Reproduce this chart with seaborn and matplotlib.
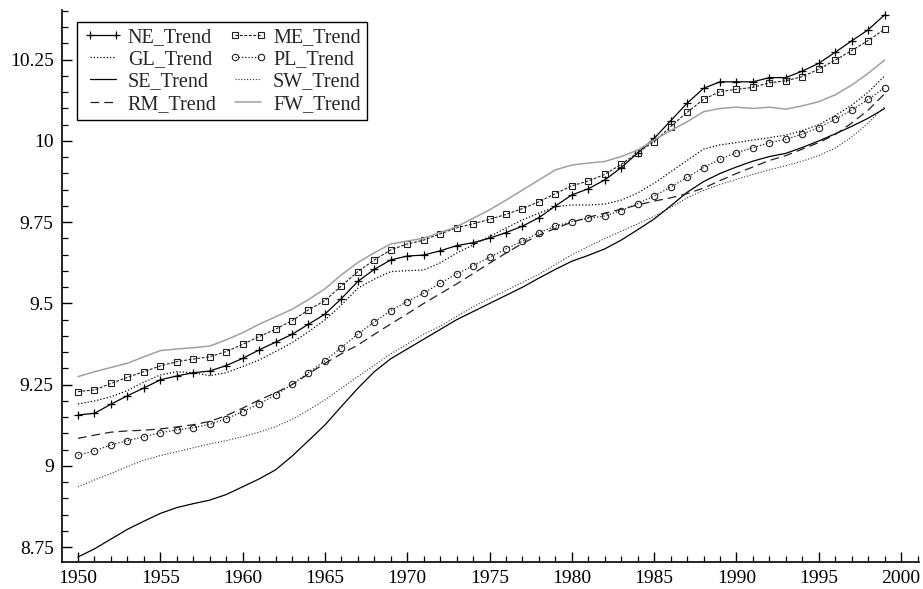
import numpy as np
import pandas as pd
import matplotlib
matplotlib.use("Agg")
import matplotlib.pyplot as plt
from matplotlib.ticker import MultipleLocator, FuncFormatter
import seaborn as sns

years = list(range(1950, 2000))

ne_trend = [9.157, 9.162, 9.190, 9.216, 9.240, 9.265, 9.277, 9.287, 9.292, 9.309,
            9.331, 9.357, 9.381, 9.405, 9.436, 9.467, 9.515, 9.568, 9.605, 9.634,
            9.646, 9.649, 9.662, 9.678, 9.687, 9.701, 9.718, 9.738, 9.764, 9.800,
            9.834, 9.853, 9.880, 9.918, 9.963, 10.008, 10.062, 10.116, 10.162, 10.182,
            10.182, 10.182, 10.195, 10.195, 10.215, 10.239, 10.273, 10.308, 10.342, 10.388]

me_trend = [9.229, 9.234, 9.254, 9.273, 9.290, 9.308, 9.321, 9.329, 9.336, 9.352,
            9.374, 9.398, 9.421, 9.447, 9.480, 9.509, 9.554, 9.598, 9.634, 9.665,
            9.683, 9.695, 9.714, 9.733, 9.745, 9.759, 9.774, 9.792, 9.813, 9.838,
            9.862, 9.877, 9.897, 9.928, 9.964, 9.998, 10.044, 10.088, 10.128, 10.152,
            10.159, 10.165, 10.179, 10.185, 10.198, 10.221, 10.249, 10.278, 10.309, 10.344]

gl_trend = [9.191, 9.200, 9.213, 9.232, 9.258, 9.280, 9.290, 9.287, 9.278, 9.287,
            9.306, 9.326, 9.352, 9.379, 9.413, 9.449, 9.495, 9.547, 9.575, 9.598,
            9.601, 9.603, 9.625, 9.655, 9.680, 9.706, 9.732, 9.757, 9.778, 9.798,
            9.803, 9.803, 9.806, 9.818, 9.840, 9.870, 9.905, 9.940, 9.975, 9.988,
            9.995, 10.003, 10.010, 10.018, 10.032, 10.050, 10.078, 10.110, 10.150, 10.200]

pl_trend = [9.034, 9.046, 9.065, 9.078, 9.090, 9.102, 9.111, 9.118, 9.128, 9.145,
            9.167, 9.191, 9.218, 9.251, 9.287, 9.324, 9.364, 9.406, 9.443, 9.478,
            9.506, 9.532, 9.562, 9.591, 9.616, 9.642, 9.668, 9.692, 9.718, 9.738,
            9.752, 9.762, 9.769, 9.786, 9.807, 9.831, 9.858, 9.888, 9.918, 9.944,
            9.964, 9.979, 9.995, 10.005, 10.021, 10.041, 10.067, 10.095, 10.128, 10.164]

se_trend = [8.720, 8.745, 8.775, 8.805, 8.830, 8.854, 8.872, 8.884, 8.895, 8.912,
            8.936, 8.960, 8.988, 9.030, 9.078, 9.126, 9.183, 9.239, 9.290, 9.330,
            9.360, 9.390, 9.420, 9.450, 9.475, 9.500, 9.525, 9.550, 9.578, 9.605,
            9.630, 9.648, 9.668, 9.695, 9.727, 9.760, 9.800, 9.842, 9.875, 9.900,
            9.920, 9.938, 9.952, 9.962, 9.980, 10.000, 10.022, 10.045, 10.070, 10.100]

sw_trend = [8.936, 8.957, 8.977, 8.998, 9.018, 9.032, 9.044, 9.056, 9.068, 9.078,
            9.090, 9.104, 9.121, 9.143, 9.172, 9.203, 9.239, 9.275, 9.310, 9.345,
            9.375, 9.405, 9.430, 9.460, 9.490, 9.515, 9.540, 9.565, 9.590, 9.620,
            9.650, 9.675, 9.700, 9.722, 9.745, 9.768, 9.795, 9.825, 9.848, 9.866,
            9.882, 9.897, 9.911, 9.924, 9.938, 9.955, 9.978, 10.012, 10.055, 10.105]

rm_trend = [9.085, 9.095, 9.104, 9.108, 9.110, 9.114, 9.120, 9.127, 9.137, 9.155,
            9.178, 9.203, 9.225, 9.250, 9.283, 9.316, 9.345, 9.372, 9.405, 9.437,
            9.468, 9.500, 9.530, 9.560, 9.592, 9.624, 9.655, 9.685, 9.710, 9.731,
            9.750, 9.765, 9.778, 9.790, 9.803, 9.815, 9.825, 9.838, 9.855, 9.878,
            9.900, 9.920, 9.940, 9.955, 9.975, 9.995, 10.020, 10.055, 10.095, 10.145]

fw_trend = [9.275, 9.290, 9.303, 9.316, 9.336, 9.355, 9.360, 9.364, 9.369, 9.388,
            9.410, 9.436, 9.459, 9.482, 9.512, 9.545, 9.588, 9.626, 9.656, 9.683,
            9.692, 9.701, 9.718, 9.736, 9.762, 9.788, 9.818, 9.849, 9.880, 9.911,
            9.926, 9.932, 9.937, 9.952, 9.972, 10.003, 10.032, 10.059, 10.090, 10.100,
            10.104, 10.100, 10.104, 10.098, 10.108, 10.121, 10.142, 10.172, 10.208, 10.249]

series_names = ["NE_Trend", "ME_Trend", "GL_Trend", "PL_Trend",
                "SE_Trend", "SW_Trend", "RM_Trend", "FW_Trend"]
series_values = [ne_trend, me_trend, gl_trend, pl_trend,
                 se_trend, sw_trend, rm_trend, fw_trend]

df = pd.DataFrame({"year": years})
for name, vals in zip(series_names, series_values):
    df[name] = vals

dotted = (0, (1.0, 1.6))
styles = {
    "NE_Trend": dict(color="black", linestyle="-", linewidth=0.9, marker="+",
                     markersize=5.2, markeredgewidth=0.9, markeredgecolor="black"),
    "ME_Trend": dict(color="#222222", linestyle=(0, (2.6, 1.4)), linewidth=0.8, marker="s",
                     markersize=4.6, markeredgewidth=0.8, markeredgecolor="#222222",
                     markerfacecolor="none"),
    "GL_Trend": dict(color="black", linestyle=dotted, linewidth=0.9),
    "PL_Trend": dict(color="#222222", linestyle=dotted, linewidth=0.9, marker="o",
                     markersize=4.6, markeredgewidth=0.8, markeredgecolor="#222222",
                     markerfacecolor="none"),
    "SE_Trend": dict(color="black", linestyle="-", linewidth=0.9),
    "SW_Trend": dict(color="#333333", linestyle=dotted, linewidth=0.8),
    "RM_Trend": dict(color="#222222", linestyle=(0, (7, 4)), linewidth=0.9),
    "FW_Trend": dict(color="#a0a0a0", linestyle="-", linewidth=1.1),
}

sns.set_style("ticks")
plt.rcParams["font.family"] = ["Liberation Serif", "DejaVu Serif"]
plt.rcParams["mathtext.fontset"] = "stix"

fig = plt.figure(figsize=(9.23, 5.89), dpi=100)
ax = fig.add_axes([62 / 923, 1 - 562 / 589, (919 - 62) / 923, (562 - 10) / 589])

for name in series_names:
    sns.lineplot(data=df, x="year", y=name, ax=ax, label=name, **styles[name])

ax.set_xlim(1949.03, 2001.09)
ax.set_ylim(8.7046, 10.403)

ax.xaxis.set_major_locator(MultipleLocator(5))
ax.xaxis.set_minor_locator(MultipleLocator(1))
ax.yaxis.set_major_locator(MultipleLocator(0.25))
ax.yaxis.set_minor_locator(MultipleLocator(0.05))
ax.yaxis.set_major_formatter(FuncFormatter(lambda v, p: f"{v:g}"))
ax.xaxis.set_major_formatter(FuncFormatter(lambda v, p: f"{int(round(v))}"))

ax.tick_params(which="major", direction="in", length=7, width=1.0,
               labelsize=14, colors="black", pad=6)
ax.tick_params(which="minor", direction="in", length=4, width=0.9, colors="black")
ax.tick_params(axis="y", which="both", left=True, right=False)
ax.tick_params(axis="x", which="both", bottom=True, top=False)

for side in ("top", "right"):
    ax.spines[side].set_visible(False)
for side in ("left", "bottom"):
    ax.spines[side].set_color("black")
    ax.spines[side].set_linewidth(1.2)

ax.set_xlabel("")
ax.set_ylabel("")

handles, labels = ax.get_legend_handles_labels()
lookup = dict(zip(labels, handles))
order = ["NE_Trend", "GL_Trend", "SE_Trend", "RM_Trend",
         "ME_Trend", "PL_Trend", "SW_Trend", "FW_Trend"]
leg = ax.legend([lookup[k] for k in order], order, loc="upper left",
                bbox_to_anchor=(0.018, 0.979), borderaxespad=0, ncol=2,
                fontsize=14.5, frameon=True, fancybox=False, shadow=False,
                handlelength=1.9, handletextpad=0.3, columnspacing=0.6,
                labelspacing=0.16, borderpad=0.3, numpoints=2)
leg.get_frame().set_edgecolor("black")
leg.get_frame().set_linewidth(1.0)
leg.get_frame().set_alpha(1)

fig.savefig("out.png", dpi=100)
